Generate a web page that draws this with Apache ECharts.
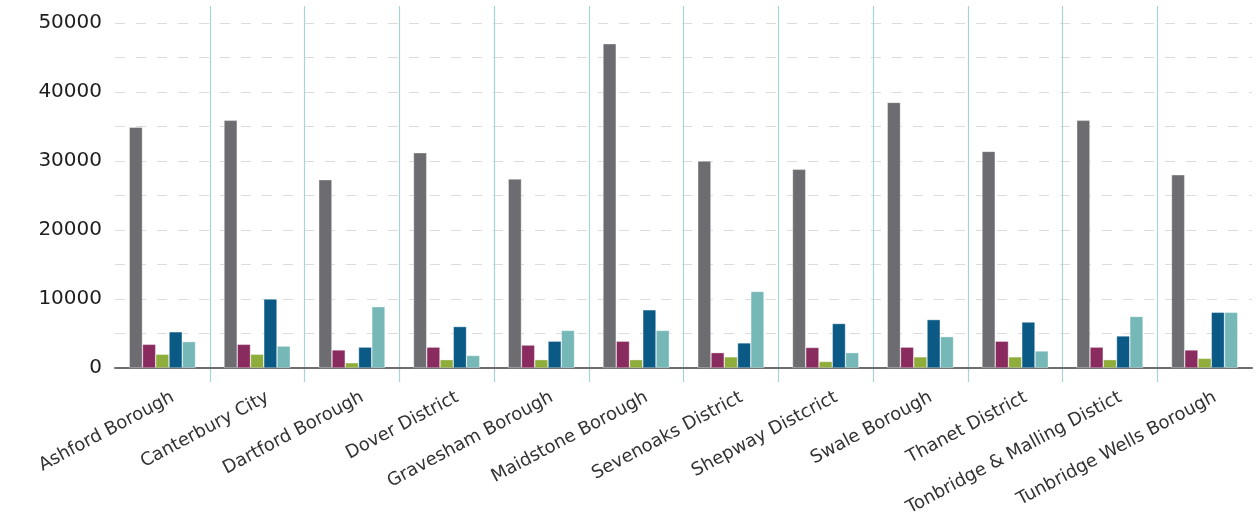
<!DOCTYPE html>
<html>
<head>
<meta charset="utf-8">
<script src="https://cdn.jsdelivr.net/npm/echarts@6/dist/echarts.min.js"></script>
<style>
html,body{margin:0;padding:0;background:#fff;}
#chart{width:1260px;height:520px;}
</style>
</head>
<body>
<div id="chart"></div>
<script>
const categories = ["Ashford Borough","Canterbury City","Dartford Borough","Dover District","Gravesham Borough","Maidstone Borough","Sevenoaks District","Shepway Distcrict","Swale Borough","Thanet District","Tonbridge & Malling Distict","Tunbridge Wells Borough"];
const seriesA = [34900, 35900, 27300, 31200, 27400, 47000, 30000, 28800, 38500, 31400, 35900, 28000];
const seriesB = [3440, 3440, 2620, 3030, 3330, 3890, 2230, 2980, 3030, 3890, 3030, 2620];
const seriesC = [2000, 2000, 760, 1210, 1210, 1210, 1620, 950, 1620, 1620, 1210, 1410];
const seriesD = [5250, 10000, 3030, 6010, 3890, 8440, 3640, 6450, 7020, 6670, 4650, 8080];
const seriesE = [3830, 3180, 8890, 1820, 5450, 5450, 11100, 2230, 4550, 2470, 7470, 8080];
const yTicks = [0, 10000, 20000, 30000, 40000, 50000];

const colors = ['#6d6c70', '#8a2b5f', '#8fad3a', '#0a5a85', '#76b8b7'];
const chart = echarts.init(document.getElementById('chart'), null, {renderer: 'canvas'});
const mk = (d, i) => ({
  type: 'bar', data: d, xAxisIndex: 0, yAxisIndex: 0,
  barGap: '0%', barCategoryGap: '30%',
  itemStyle: {color: colors[i], borderColor: 'rgba(255,255,255,0.6)', borderWidth: 0.6},
  silent: true, animation: false
});
chart.setOption({
  animation: false,
  grid: [
    {left: 115, right: 8, top: 23, bottom: 152, containLabel: false},
    {left: 115, right: 8, top: 6, bottom: 138, containLabel: false}
  ],
  xAxis: [
    {type: 'category', gridIndex: 0, data: categories,
     axisLine: {lineStyle: {color: '#6d6c70', width: 2}},
     axisTick: {show: false},
     splitLine: {show: false},
     axisLabel: {interval: 0, rotate: 28, margin: 34, padding: [0, -12, 0, 0], color: '#333', fontSize: 18, fontFamily: 'DejaVu Sans'}
    },
    {type: 'category', gridIndex: 1, data: categories,
     axisLine: {show: false}, axisTick: {show: false}, axisLabel: {show: false},
     splitLine: {show: true, interval: 0, showMinLine: false, showMaxLine: false, lineStyle: {color: '#a9d4d4', width: 1.2}}
    }
  ],
  yAxis: [
    {type: 'value', gridIndex: 0, min: 0, max: 50000, interval: 5000,
     axisLine: {show: false}, axisTick: {show: false},
     axisLabel: {margin: 13, color: '#1e1e1e', fontSize: 20, fontFamily: 'DejaVu Sans',
       formatter: v => yTicks.indexOf(v) >= 0 ? String(v) : ''},
     splitLine: {show: true, lineStyle: {color: '#dcdcdc', type: [10, 11], width: 1.2}}
    },
    {type: 'value', gridIndex: 1, show: false, min: 0, max: 1, splitLine: {show: false}}
  ],
  series: [mk(seriesA, 0), mk(seriesB, 1), mk(seriesC, 2), mk(seriesD, 3), mk(seriesE, 4)]
});
</script>
</body>
</html>
